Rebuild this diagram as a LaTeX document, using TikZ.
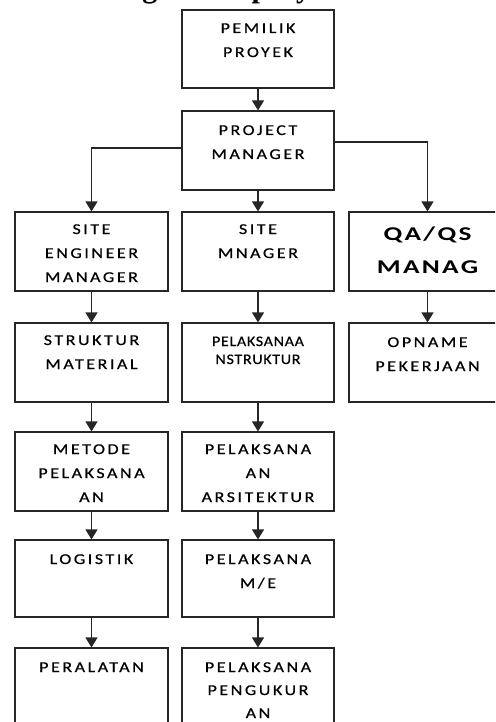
\documentclass[tikz,border=0pt]{standalone}
\usepackage{fontspec}
\setmainfont{Liberation Serif}
\usetikzlibrary{arrows.meta}
\newfontfamily\boxfont[FakeStretch=1.2,LetterSpace=17,FakeBold=0.6]{Carlito}
\newfontfamily\smallboxfont[FakeStretch=1.1,LetterSpace=5,FakeBold=0.6]{Carlito}
\newfontfamily\qafont[FakeStretch=1.4,LetterSpace=12]{Carlito}
\newcommand\ocontent[4]{\parbox[c][#2][t]{#1}{\centering\rule{0pt}{#3}#4}}
\tikzset{
  orgbox/.style={draw=black!85, line width=1.1pt, inner sep=0pt, rectangle,
    font=\boxfont\fontsize{15}{24}\selectfont},
  link/.style={draw=black!85, line width=1.1pt, -{Triangle[width=12pt,length=10pt]}}
}
\begin{document}
\begin{tikzpicture}[x=1pt,y=-1pt]
\path[use as bounding box] (0,0) rectangle (495,722);
\clip (0,0) rectangle (495,722);
\node[anchor=south west, inner sep=0pt, font=\bfseries\fontsize{30}{36}\selectfont] (title) at (-7,4.5) {Struktur organisasi proyek};
% top
\node[orgbox] (pemilik) at (258,49) {\ocontent{152pt}{78pt}{23pt}{PEMILIK\\PROYEK}};
\node[orgbox] (pm) at (258,150.5) {\ocontent{152pt}{79pt}{24pt}{PROJECT\\MANAGER}};
% row 1
\node[orgbox] (sem) at (91.5,251.5) {\ocontent{153pt}{79pt}{22pt}{SITE\\ENGINEER\\MANAGER}};
\node[orgbox] (sm) at (258,251.5) {\ocontent{152pt}{79pt}{22pt}{SITE\\MNAGER}};
\node[orgbox, font=\qafont\bfseries\fontsize{19.5}{33}\selectfont] (qa) at (427.5,251.5) {\ocontent{157pt}{79pt}{28pt}{QA/QS\\MANAG}};
% row 2
\node[orgbox] (stm) at (91.5,362.5) {\ocontent{153pt}{79pt}{22pt}{STRUKTUR\\MATERIAL}};
\node[orgbox, font=\smallboxfont\fontsize{14.5}{18}\selectfont] (pstr) at (258,362.5) {\ocontent{152pt}{79pt}{23pt}{PELAKSANAA\\NSTRUKTUR}};
\node[orgbox] (opn) at (427.5,362.5) {\ocontent{157pt}{79pt}{24pt}{OPNAME\\PEKERJAAN}};
% row 3
\node[orgbox] (met) at (91.5,471.5) {\ocontent{153pt}{79pt}{22pt}{METODE\\PELAKSANA\\AN}};
\node[orgbox] (pars) at (258,471.5) {\ocontent{152pt}{79pt}{22pt}{PELAKSANA\\AN\\ARSITEKTUR}};
% row 4
\node[orgbox] (log) at (91.5,578.5) {\ocontent{153pt}{77pt}{24pt}{LOGISTIK}};
\node[orgbox] (pme) at (258,578.5) {\ocontent{152pt}{77pt}{24pt}{PELAKSANA\\M/E}};
% row 5
\node[orgbox, font=\boxfont\fontsize{15}{23}\selectfont] (per) at (91.5,687.5) {\ocontent{153pt}{79pt}{24pt}{PERALATAN}};
\node[orgbox, font=\boxfont\fontsize{15}{23}\selectfont] (pukur) at (258,687.5) {\ocontent{152pt}{79pt}{24pt}{PELAKSANA\\PENGUKUR\\AN}};
% connectors
\draw[link] (pemilik.south) -- (pm.north);
\draw[link] (pm.south) -- (sm.north);
\draw[link] ([yshift=2.5pt]pm.west) -| (sem.north);
\draw[link] ([yshift=8.5pt]pm.east) -| (qa.north);
\draw[link] (sem.south) -- (stm.north);
\draw[link] (stm.south) -- (met.north);
\draw[link] (met.south) -- (log.north);
\draw[link] (log.south) -- (per.north);
\draw[link] (sm.south) -- (pstr.north);
\draw[link] (pstr.south) -- (pars.north);
\draw[link] (pars.south) -- (pme.north);
\draw[link] (pme.south) -- (pukur.north);
\draw[link] (qa.south) -- (opn.north);
\end{tikzpicture}
\end{document}
